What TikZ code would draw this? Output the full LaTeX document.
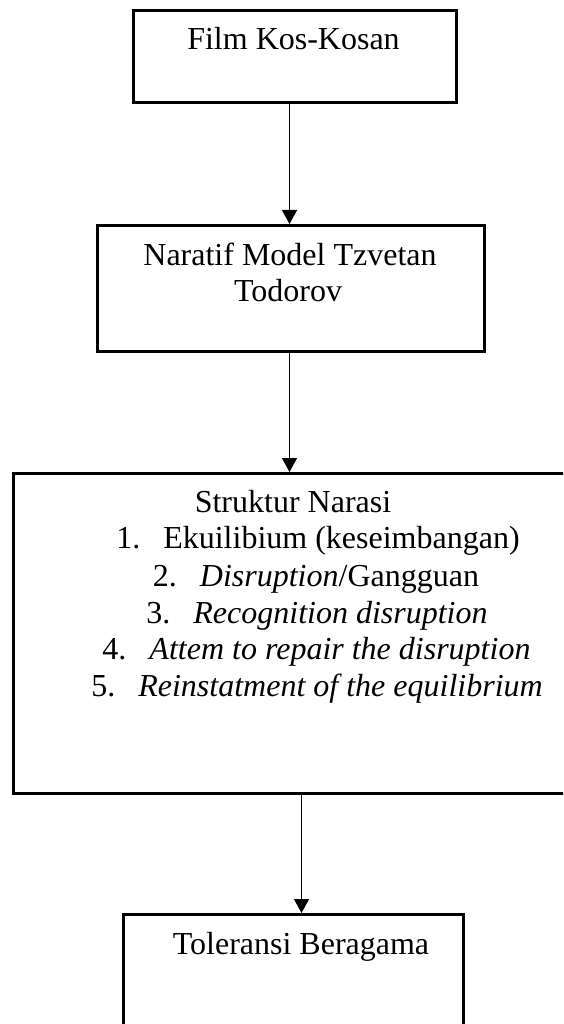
\documentclass[tikz,border=0pt]{standalone}
\usepackage{fontspec}
\setmainfont{Liberation Serif}
\usetikzlibrary{arrows.meta}
\begin{document}
\begin{tikzpicture}[x=1pt,y=-1pt,
  boxstyle/.style={draw=black, line width=3pt, rectangle, inner sep=0pt, anchor=north west},
  txt/.style={anchor=base, inner sep=0pt, font=\fontsize{32}{36.8}\selectfont},
  conn/.style={draw=black, line width=1.3pt, -{Triangle[width=15pt,length=14pt]}}]
\useasboundingbox (0,0) rectangle (563,1024);
\clip (0,0) rectangle (563,1024);
% boxes
\node[boxstyle, minimum width=323pt, minimum height=92pt] (b1) at (132,9) {};
\node[boxstyle, minimum width=387pt, minimum height=126pt] (b2) at (96,224) {};
\node[boxstyle, minimum width=570pt, minimum height=320pt] (b3) at (12,472) {};
\node[boxstyle, minimum width=340pt, minimum height=125pt] (b4) at (122,913) {};
% texts
\node[txt] (t1) at (293.5,50) {Film Kos-Kosan};
\node[txt] (t2a) at (290,265) {Naratif Model Tzvetan};
\node[txt] (t2b) at (288,301) {Todorov};
\node[txt] (t3) at (293,512) {Struktur Narasi};
\node[txt] (i1) at (318,548) {\makebox[47pt][l]{1.}Ekuilibium (keseimbangan)};
\node[txt] (i2) at (316,586) {\makebox[47pt][l]{2.}\textit{Disruption}/Gangguan};
\node[txt] (i3) at (317,623) {\makebox[47pt][l]{3.}\textit{Recognition disruption}};
\node[txt] (i4) at (316.5,659) {\makebox[47pt][l]{4.}\textit{Attem to repair the disruption}};
\node[txt] (i5) at (317,696) {\makebox[47pt][l]{5.}\textit{Reinstatment of the equilibrium}};
\node[txt] (t4) at (301,954) {Toleransi Beragama};
% connectors
\draw[conn] ([xshift=-5.5pt]b1.south) -- ([xshift=-5.5pt]b1.south |- b2.north);
\draw[conn] ([xshift=-1.5pt]b2.south) -- ([xshift=-1.5pt]b2.south |- b3.north);
\draw[conn] ([xshift=3pt]b3.south) -- ([xshift=3pt]b3.south |- b4.north);
\end{tikzpicture}
\end{document}
